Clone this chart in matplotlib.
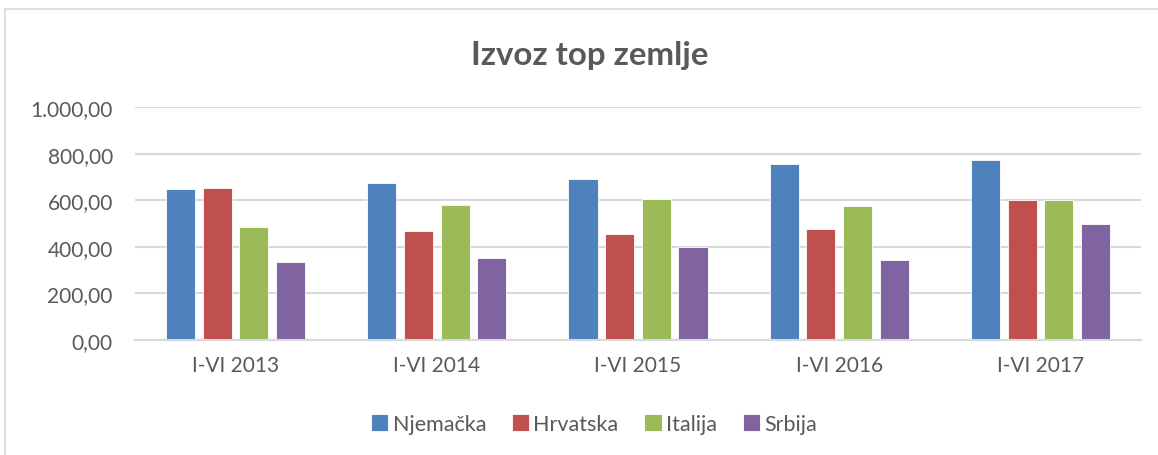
import numpy as np
import matplotlib.pyplot as plt
from matplotlib.lines import Line2D
from matplotlib.ticker import FuncFormatter

plt.rcParams["font.family"] = ["Lato", "DejaVu Sans"]

periods = ["I-VI 2013", "I-VI 2014", "I-VI 2015", "I-VI 2016", "I-VI 2017"]
countries = ["Njemačka", "Hrvatska", "Italija", "Srbija"]
njemacka = [650, 675, 691, 755, 773]
hrvatska = [652, 468, 453, 476, 601]
italija = [486, 581, 606, 576, 601]
srbija = [335, 354, 399, 345, 496]
colors = ["#4F81BD", "#C0504D", "#9BBB59", "#8064A2"]

series = [njemacka, hrvatska, italija, srbija]
text_color = "#595959"
grid_color = "#D9D9D9"

fig = plt.figure(figsize=(11.58, 4.56), dpi=100)
ax = fig.add_axes([135 / 1158, 1 - 341 / 456, 1006 / 1158, 233 / 456])

x = np.arange(len(periods))
step = 0.182
width = 0.145
for i, (vals, c) in enumerate(zip(series, colors)):
    offs = (i - 1.5) * step
    ax.bar(x + offs, vals, width, color=c, label=countries[i],
           edgecolor="white", linewidth=0.6, zorder=3)

ax.set_xlim(-0.5, len(periods) - 0.5)
ax.set_ylim(0, 1000)
ax.set_yticks(np.arange(0, 1001, 200))


def fmt(v, pos):
    s = f"{v:,.2f}"
    return s.replace(",", "X").replace(".", ",").replace("X", ".")


ax.yaxis.set_major_formatter(FuncFormatter(fmt))
ax.set_xticks(x)
ax.set_xticklabels(periods)
ax.tick_params(axis="both", length=0, labelsize=15, labelcolor=text_color)
ax.tick_params(axis="x", pad=11)
ax.tick_params(axis="y", pad=16)
ax.grid(axis="y", color=grid_color, linewidth=1.5, zorder=0)
for s in ["top", "right", "left"]:
    ax.spines[s].set_visible(False)
ax.spines["bottom"].set_color(grid_color)
ax.spines["bottom"].set_linewidth(1.5)
ax.spines["bottom"].set_zorder(4)

fig.text(590 / 1158, 1 - 55 / 456, "Izvoz top zemlje", ha="center", va="center",
         fontsize=23.8, fontweight="bold", color=text_color)

leg = fig.legend(loc="center", bbox_to_anchor=(594 / 1158, 1 - 425 / 456),
                 ncol=4, frameon=False, fontsize=15.5, labelcolor=text_color,
                 handlelength=0.8, handleheight=0.8, handletextpad=0.2,
                 columnspacing=1.2)

# chart frame (cropped at right and bottom)
fig.add_artist(Line2D([5 / 1158, 1.0], [1 - 10 / 456, 1 - 10 / 456],
                      color=grid_color, linewidth=1.2, transform=fig.transFigure))
fig.add_artist(Line2D([5 / 1158, 5 / 1158], [1 - 10 / 456, 0],
                      color=grid_color, linewidth=1.2, transform=fig.transFigure))

fig.savefig("out.png", dpi=100)
